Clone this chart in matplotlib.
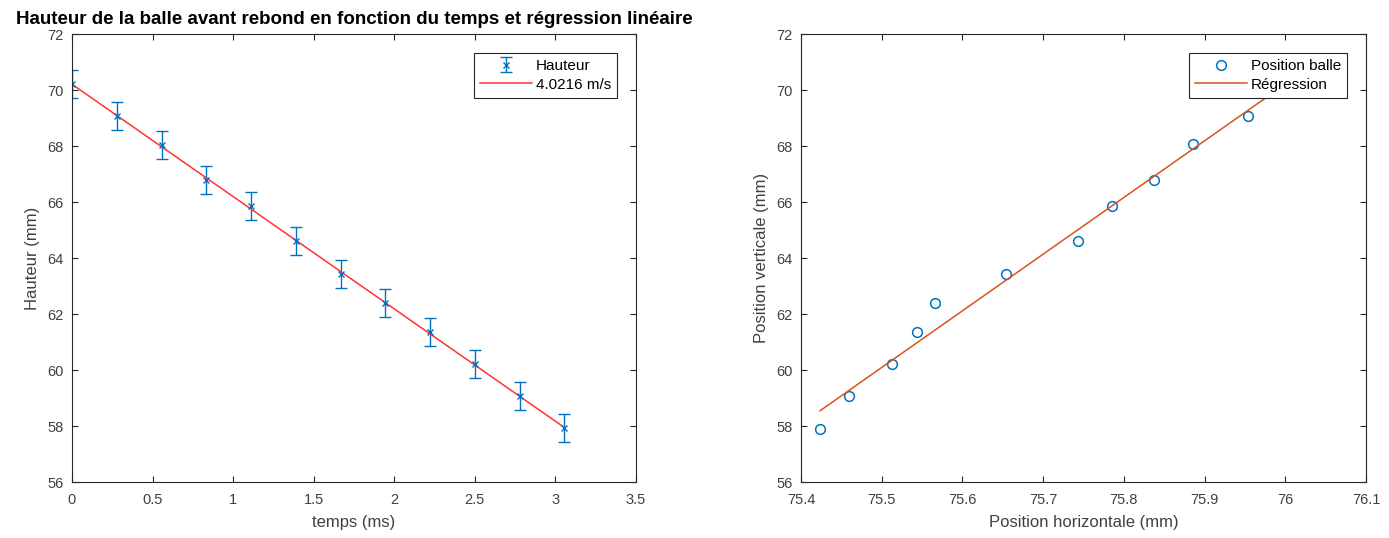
import numpy as np
import matplotlib
matplotlib.use("Agg")
import matplotlib.pyplot as plt
from matplotlib.ticker import FuncFormatter

# ---- data ----
temps = [0.0, 0.278, 0.556, 0.833, 1.111, 1.389, 1.667, 1.944, 2.222, 2.5, 2.778, 3.056]
hauteur = [70.2, 69.07, 68.05, 66.78, 65.84, 64.6, 63.43, 62.41, 61.35, 60.2, 59.06, 57.92]
erreur = [0.5] * 12

pos_horiz = [75.4236, 75.4597, 75.5131, 75.5433, 75.5666, 75.6536, 75.7432, 75.7854,
             75.8377, 75.8861, 75.9533, 76.000]
pos_vert = [57.9, 59.07, 60.2, 61.36, 62.4, 63.42, 64.6, 65.86, 66.8, 68.07, 69.07, 70.2]

title_txt = "Hauteur de la balle avant rebond en fonction du temps et régression linéaire"
left_legend = ["Hauteur", "4.0216 m/s"]
right_legend = ["Position balle", "Régression"]

plt.rcParams['font.family'] = ['Liberation Sans', 'DejaVu Sans']

BLUE = '#0072BD'
ORANGE = '#D95319'
TICKC = '#404040'

fig = plt.figure(figsize=(13.89, 5.38), dpi=100)
ax1 = fig.add_axes([72/1389, 1-482/538, (636-72)/1389, (482-34)/538])
ax2 = fig.add_axes([801/1389, 1-482/538, (1366-801)/1389, (482-34)/538])

fmt = FuncFormatter(lambda v, p: '%g' % round(v, 6))

def style(ax):
    ax.tick_params(direction='in', top=True, right=True, length=4, width=0.8,
                   colors='#262626', labelcolor=TICKC, labelsize=10.5)
    ax.tick_params(axis='x', pad=8)
    ax.tick_params(axis='y', pad=6)
    for s in ax.spines.values():
        s.set_color('#262626')
        s.set_linewidth(0.8)
    ax.xaxis.set_major_formatter(fmt)
    ax.yaxis.set_major_formatter(fmt)

def make_legend(ax, handles, labels):
    leg = ax.legend(handles, labels, loc='upper right', fontsize=11, frameon=True,
                    fancybox=False, edgecolor='#262626', framealpha=1,
                    borderaxespad=1.25, handlelength=3.4, borderpad=0.4,
                    labelspacing=0.3, handletextpad=0.25)
    leg.get_frame().set_linewidth(0.8)
    leg.set_zorder(10)
    return leg

# Left plot
t = np.array(temps)
h = np.array(hauteur)
eb = ax1.errorbar(t, h, yerr=erreur, fmt='x', color=BLUE, ms=5, mew=1.0,
                  elinewidth=1.0, capsize=4, capthick=1.0)
coef = np.polyfit(t, h, 1)
ln1, = ax1.plot(t, np.polyval(coef, t), color='#FF3333', lw=1.1)
ax1.set_xlim(0, 3.5)
ax1.set_ylim(56, 72)
ax1.set_xticks(np.arange(0, 3.51, 0.5))
ax1.set_yticks(np.arange(56, 72.1, 2))
ax1.set_xlabel('temps (ms)', fontsize=12, color=TICKC, labelpad=6)
ax1.set_ylabel('Hauteur (mm)', fontsize=12, color=TICKC, labelpad=5)
ax1.set_title(title_txt, fontsize=13.5, fontweight='bold', pad=7)
style(ax1)
make_legend(ax1, [eb, ln1], left_legend)

# Right plot
xh = np.array(pos_horiz)
yv = np.array(pos_vert)
pts, = ax2.plot(xh, yv, 'o', mfc='none', mec=BLUE, ms=7, mew=1.1)
c2 = np.polyfit(xh, yv, 1)
ln2, = ax2.plot(xh, np.polyval(c2, xh), color=ORANGE, lw=1.1)
ax2.set_xlim(75.4, 76.1)
ax2.set_ylim(56, 72)
ax2.set_xticks(np.arange(75.4, 76.11, 0.1))
ax2.set_yticks(np.arange(56, 72.1, 2))
ax2.set_xlabel('Position horizontale (mm)', fontsize=12, color=TICKC, labelpad=6)
ax2.set_ylabel('Position verticale (mm)', fontsize=12, color=TICKC, labelpad=5)
style(ax2)
make_legend(ax2, [pts, ln2], right_legend)

fig.savefig('out.png', dpi=100, facecolor='white')
